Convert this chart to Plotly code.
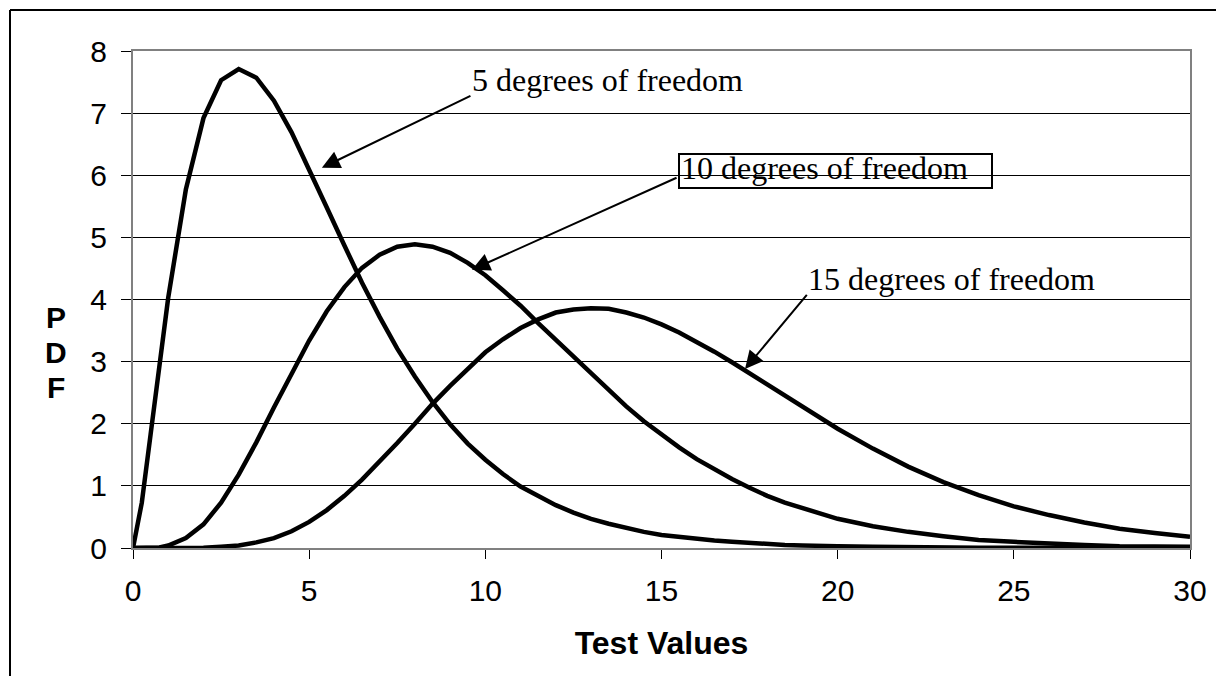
import plotly.graph_objects as go

# Test values on the x axis
x_values = [0, 0.25, 0.5, 0.75, 1, 1.5, 2, 2.5, 3, 3.5, 4, 4.5, 5, 5.5, 6, 6.5,
            7, 7.5, 8, 8.5, 9, 9.5, 10, 10.5, 11, 11.5, 12, 12.5, 13, 13.5,
            14, 14.5, 15, 15.5, 16, 16.5, 17, 17.5, 18, 18.5, 19, 19.5, 20,
            21, 22, 23, 24, 25, 26, 27, 28, 29, 30]

# PDF values for each curve
pdf_5 = [0, 0.73, 1.83, 2.97, 4.03, 5.77, 6.92, 7.53, 7.71, 7.57, 7.20, 6.69,
         6.10, 5.48, 4.87, 4.27, 3.72, 3.21, 2.76, 2.35, 1.99, 1.68, 1.42,
         1.19, 0.99, 0.83, 0.69, 0.57, 0.47, 0.39, 0.32, 0.26, 0.21, 0.18,
         0.14, 0.12, 0.10, 0.08, 0.06, 0.05, 0.04, 0.03, 0.03,
         0.02, 0.01, 0.01, 0.005, 0.003, 0.002, 0.001, 0.001, 0.0, 0.0]

pdf_10 = [0, 0.0, 0.0, 0.01, 0.04, 0.16, 0.38, 0.73, 1.18, 1.70, 2.26, 2.81,
          3.34, 3.81, 4.20, 4.51, 4.72, 4.85, 4.89, 4.85, 4.75, 4.59, 4.39,
          4.15, 3.90, 3.62, 3.35, 3.07, 2.80, 2.53, 2.28, 2.04, 1.82, 1.62,
          1.43, 1.26, 1.11, 0.97, 0.84, 0.73, 0.64, 0.55, 0.47,
          0.35, 0.26, 0.19, 0.13, 0.10, 0.07, 0.05, 0.03, 0.02, 0.02]

pdf_15 = [0, 0, 0, 0, 0.0, 0.0, 0.005, 0.02, 0.04, 0.09, 0.16, 0.27, 0.42,
          0.61, 0.84, 1.10, 1.39, 1.69, 2.00, 2.32, 2.61, 2.89, 3.15, 3.36,
          3.54, 3.68, 3.79, 3.84, 3.86, 3.85, 3.79, 3.71, 3.60, 3.47, 3.32,
          3.16, 2.99, 2.81, 2.63, 2.45, 2.27, 2.09, 1.92,
          1.60, 1.31, 1.06, 0.85, 0.67, 0.53, 0.41, 0.31, 0.24, 0.18]

x_ticks = [0, 5, 10, 15, 20, 25, 30]
y_ticks = [0, 1, 2, 3, 4, 5, 6, 7, 8]

SANS = "Liberation Sans, Arial, sans-serif"
SERIF = "Liberation Serif, Times New Roman, serif"

fig = go.Figure()
for ys, name in [(pdf_5, "5 df"), (pdf_10, "10 df"), (pdf_15, "15 df")]:
    fig.add_trace(go.Scatter(
        x=x_values, y=ys, mode="lines", name=name,
        line=dict(color="black", width=4.5),
        showlegend=False,
    ))

# the page body adds an 8px margin all round; the figure is sized so the
# page does not overflow the window
fig.update_layout(
    width=1214,
    height=671,
    plot_bgcolor="white",
    paper_bgcolor="white",
    margin=dict(l=125, r=32, t=43, b=131),
    font=dict(family=SANS, color="black", size=30),
)

fig.update_xaxes(
    range=[0, 30],
    tickvals=x_ticks,
    ticks="outside", ticklen=9, tickwidth=1, tickcolor="black",
    ticklabelstandoff=6,
    showgrid=False, zeroline=False,
    showline=True, linecolor="#808080", linewidth=2, mirror=True,
    tickfont=dict(family=SANS, size=30),
    title=dict(text="<b>Test Values</b>", font=dict(family=SANS, size=32),
               standoff=26),
)
fig.update_yaxes(
    range=[0, 8],
    tickvals=y_ticks,
    ticks="outside", ticklen=10, tickwidth=1, tickcolor="black",
    ticklabelstandoff=8,
    showgrid=True, gridcolor="black", gridwidth=1, zeroline=False,
    showline=True, linecolor="#808080", linewidth=2, mirror=True,
    tickfont=dict(family=SANS, size=30),
)

# stacked y axis title, one letter per line
for letter, py in [("P", 317), ("D", 352), ("F", 387)]:
    fig.add_annotation(
        text=f"<b>{letter}</b>", xref="paper", yref="paper",
        x=(56 - 133) / 1057, y=(548 - py) / 497,
        showarrow=False, font=dict(family=SANS, size=30),
        xanchor="center", yanchor="middle",
    )

# curve labels
fig.add_annotation(
    text="5 degrees of freedom", x=9.57, y=7.53, showarrow=False,
    xanchor="left", yanchor="middle", font=dict(family=SERIF, size=32),
)
fig.add_annotation(
    text="10 degrees of freedom", x=19.94, y=6.07, showarrow=False,
    xanchor="center", yanchor="middle", align="left", valign="bottom",
    width=309, height=30, borderpad=1,
    bordercolor="black", borderwidth=2,
    font=dict(family=SERIF, size=32),
)
fig.add_annotation(
    text="15 degrees of freedom", x=19.10, y=4.33, showarrow=False,
    xanchor="left", yanchor="middle", font=dict(family=SERIF, size=32),
)

# arrows pointing at the curves
arrows = [
    ((5.36, 6.12), (9.62, 7.29)),
    ((9.62, 4.48), (15.47, 5.97)),
    ((17.37, 2.88), (19.16, 4.10)),
]
for (hx, hy), (tx, ty) in arrows:
    fig.add_annotation(
        text="", x=hx, y=hy, ax=tx, ay=ty, axref="x", ayref="y",
        showarrow=True, arrowhead=2, arrowsize=1.8, arrowwidth=2,
        arrowcolor="black",
    )

# outer chart frame: only the top and left edges are visible in the picture
fx0 = (10 - 133) / 1057
fx1 = (1216 - 133) / 1057
fy0 = (548 - 676) / 497
fy1 = 1 + (51 - 10) / 497
fig.add_shape(type="line", xref="paper", yref="paper",
              x0=fx0, y0=fy1, x1=fx1, y1=fy1,
              line=dict(color="black", width=2))
fig.add_shape(type="line", xref="paper", yref="paper",
              x0=fx0, y0=fy0, x1=fx0, y1=fy1,
              line=dict(color="black", width=2))

fig.write_html("out.html")
